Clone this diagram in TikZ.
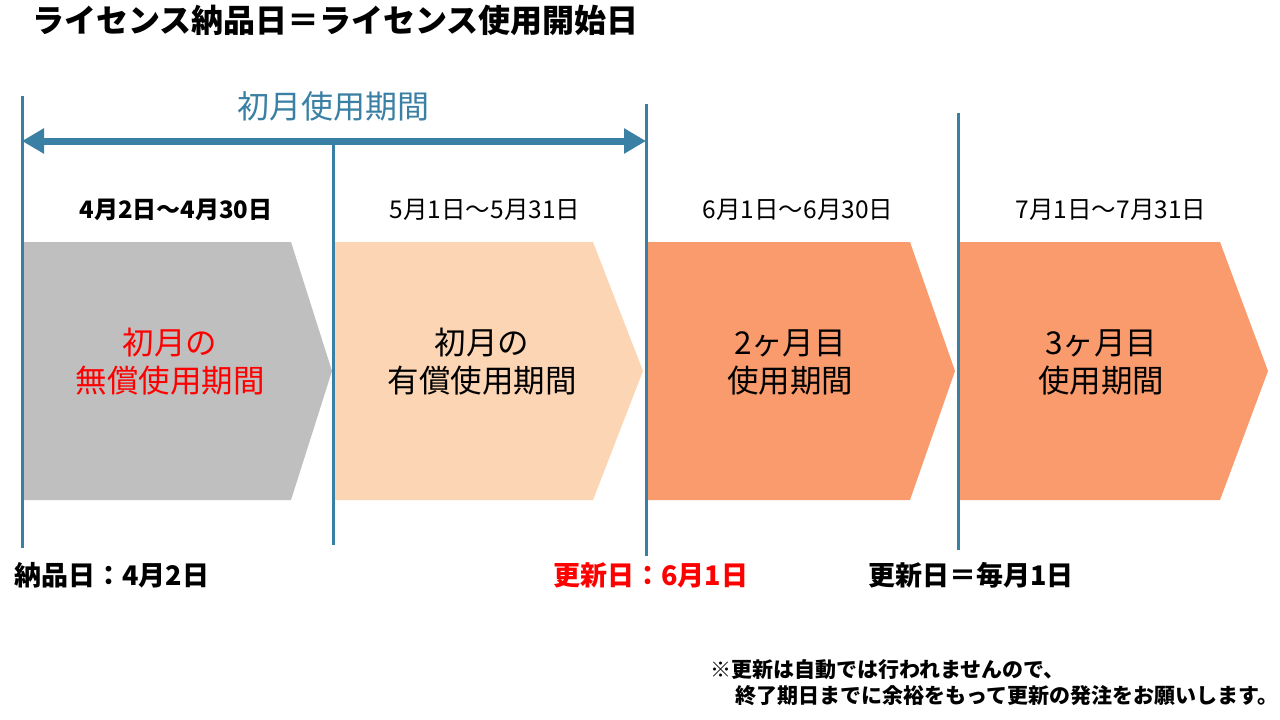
\documentclass[tikz,border=0pt]{standalone}
\usepackage{fontspec}
\setmainfont{Noto Sans CJK JP}
\usetikzlibrary{arrows.meta}
\definecolor{lineblue}{RGB}{58,128,164}
\definecolor{chgray}{RGB}{191,191,191}
\definecolor{chpeach}{RGB}{252,213,181}
\definecolor{chorange}{RGB}{250,155,110}
\definecolor{hired}{RGB}{255,0,0}
\tikzset{
  divider/.style={draw=lineblue, line width=3pt},
  period/.style={draw=lineblue, line width=7pt, {Triangle[length=22pt,width=24pt]}-{Triangle[length=22pt,width=24pt]}, shorten <=-1pt, shorten >=-1pt},
  chevtext/.style={align=center, font=\fontsize{31.5}{38}\selectfont, inner sep=0pt},
  datelbl/.style={font=\fontsize{24.5}{28}\selectfont, inner sep=0pt},
  bottomlbl/.style={font=\bfseries\fontsize{27}{30}\selectfont, inner sep=0pt, anchor=west},
}
\begin{document}
\begin{tikzpicture}[x=1pt,y=-1pt]
\useasboundingbox[fill=white] (0,0) rectangle (1280,720);

% chevrons
\fill[chgray]   (22,242) -- (291,242) -- (332,371) -- (291,500) -- (22,500) -- cycle;
\fill[chpeach]  (335,242) -- (593,242) -- (643,371) -- (593,500) -- (335,500) -- cycle;
\fill[chorange] (648,242) -- (910,242) -- (955,371) -- (910,500) -- (648,500) -- cycle;
\fill[chorange] (960,242) -- (1220,242) -- (1268,371) -- (1220,500) -- (960,500) -- cycle;

% dividers
\coordinate (d1t) at (22,96);   \coordinate (d1b) at (22,548);
\coordinate (d2t) at (333,145); \coordinate (d2b) at (333,545);
\coordinate (d3t) at (646,104); \coordinate (d3b) at (646,556);
\coordinate (d4t) at (958,113); \coordinate (d4b) at (958,550);
\draw[divider] (d1t) -- (d1b);
\draw[divider] (d2t) -- (d2b);
\draw[divider] (d3t) -- (d3b);
\draw[divider] (d4t) -- (d4b);

% period arrow
\coordinate (pa) at (23,141);
\coordinate (pb) at (645,141);
\draw[period] (pa) -- (pb);
\node[text=lineblue, font=\fontsize{32}{36}\selectfont, inner sep=0pt] (ptitle) at (333,106) {初月使用期間};

% title
\node[font=\bfseries\fontsize{32}{36}\selectfont, anchor=west, inner sep=0pt] (title) at (32,20) {ライセンス納品日＝ライセンス使用開始日};

% date labels
\node[datelbl, font=\bfseries\fontsize{24}{28}\selectfont] (dl1) at (176,210) {4月2日～4月30日};
\node[datelbl] (dl2) at (485,210) {5月1日～5月31日};
\node[datelbl] (dl3) at (798,210) {6月1日～6月30日};
\node[datelbl] (dl4) at (1111,210) {7月1日～7月31日};

% chevron texts
\node[chevtext, text=hired] (c1) at (170,362) {初月の\\無償使用期間};
\node[chevtext] (c2) at (482,362) {初月の\\有償使用期間};
\node[chevtext] (c3) at (790,362) {2ヶ月目\\使用期間};
\node[chevtext] (c4) at (1101,362) {3ヶ月目\\使用期間};

% bottom labels
\node[bottomlbl] (b1) at (14,575) {納品日：4月2日};
\node[bottomlbl, text=hired] (b2) at (553,575) {更新日：6月1日};
\node[bottomlbl] (b3) at (868,575) {更新日＝毎月1日};

% note
\node[font=\bfseries\fontsize{21}{26}\selectfont, anchor=west, inner sep=0pt, align=left] (note) at (710,683) {※更新は自動では行われませんので、\\\hspace*{1.2em}終了期日までに余裕をもって更新の発注をお願いします。};
\end{tikzpicture}
\end{document}
